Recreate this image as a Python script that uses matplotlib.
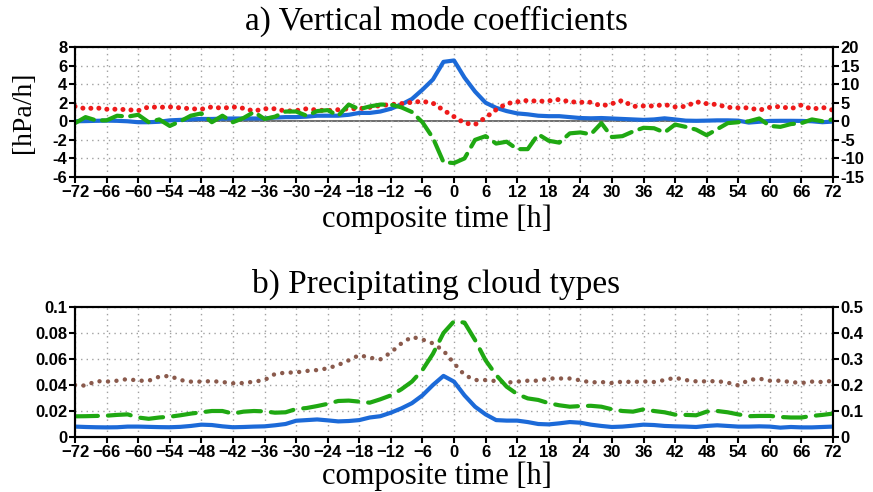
import numpy as np
import matplotlib
matplotlib.use("Agg")
import matplotlib.pyplot as plt
from matplotlib.ticker import FuncFormatter
from matplotlib.font_manager import FontProperties

# composite time [h], every 2 h
hours = np.arange(-72, 73, 2)

# panel a) vertical mode coefficients [hPa/h] (left-axis units)
mode1 = [0.0, 0.02, 0.05, 0.07, 0.05, 0.0, -0.1, -0.1, -0.05, 0.1,
         0.15, 0.2, 0.25, 0.25, 0.28, 0.3, 0.3, 0.3, 0.3, 0.4,
         0.45, 0.45, 0.5, 0.6, 0.6, 0.6, 0.7, 0.9, 0.9, 1.05,
         1.35, 1.8, 2.4, 3.4, 4.5, 6.4, 6.55, 4.7, 3.2, 2.0,
         1.45, 1.1, 0.85, 0.75, 0.6, 0.55, 0.55, 0.45, 0.35, 0.32,
         0.35, 0.3, 0.25, 0.2, 0.15, 0.2, 0.32, 0.2, 0.07, 0.05,
         0.07, 0.1, 0.1, 0.07, -0.14, -0.05, 0.04, 0.05, 0.05, 0.04,
         0.0, -0.1, -0.03]
mode2 = [-0.2, 0.45, 0.1, 0.1, 0.6, 0.5, 0.7, -0.1, 0.2, -0.5,
         0.0, 0.6, 0.85, -0.1, 0.6, -0.1, 0.35, 1.0, 0.25, 0.5,
         1.05, 1.05, 0.6, 1.1, 1.2, 0.6, 1.8, 1.3, 1.6, 1.8,
         1.8, 1.5, 1.0, -0.1, -1.8, -4.4, -4.5, -4.0, -2.0, -1.6,
         -2.4, -2.2, -3.0, -3.0, -1.4, -2.1, -2.3, -1.3, -1.2, -1.4,
         -0.2, -1.7, -1.6, -1.1, -0.7, -0.75, -1.2, -0.35, -0.6, -0.9,
         -1.5, -0.85, -0.2, -0.1, 0.0, 0.3, -0.5, -0.6, -0.3, -0.2,
         0.2, 0.0, 0.2]
mode3 = [1.6, 1.35, 1.45, 1.3, 1.3, 1.25, 1.15, 1.55, 1.5, 1.55,
         1.45, 1.35, 1.3, 1.55, 1.4, 1.55, 1.4, 1.1, 1.35, 1.35,
         1.1, 1.15, 1.35, 1.2, 1.15, 1.25, 1.35, 1.35, 1.5, 1.7,
         1.8, 1.9, 2.05, 2.15, 1.95, 1.2, 0.5, -0.2, -0.35, 0.4,
         1.25, 1.9, 2.1, 2.25, 2.15, 2.2, 2.35, 2.1, 2.05, 2.05,
         1.65, 1.9, 2.25, 1.6, 1.65, 1.65, 1.8, 1.55, 1.6, 2.1,
         1.9, 1.8, 1.5, 1.45, 1.45, 1.2, 1.5, 1.6, 1.35, 1.75,
         1.3, 1.5, 1.2]

# panel b) precipitating cloud types (left-axis units)
deep = [0.008, 0.0077, 0.0075, 0.0074, 0.0075, 0.008, 0.008, 0.0078, 0.0076, 0.0075,
        0.0078, 0.0085, 0.0095, 0.0092, 0.0082, 0.0075, 0.0077, 0.008, 0.0082, 0.009,
        0.010, 0.0125, 0.013, 0.0135, 0.0128, 0.012, 0.0123, 0.013, 0.015, 0.016,
        0.0187, 0.022, 0.026, 0.032, 0.040, 0.047, 0.0426, 0.032, 0.0233, 0.0174,
        0.013, 0.0126, 0.0126, 0.0115, 0.010, 0.0097, 0.0105, 0.0115, 0.011, 0.0095,
        0.0085, 0.0077, 0.008, 0.0087, 0.0095, 0.0092, 0.0085, 0.0082, 0.008, 0.0077,
        0.0085, 0.009, 0.0085, 0.008, 0.008, 0.0082, 0.008, 0.0072, 0.0077, 0.0074,
        0.0074, 0.0077, 0.008]
strat = [0.0159, 0.016, 0.0162, 0.0164, 0.017, 0.0174, 0.015, 0.014, 0.015, 0.0156,
         0.0167, 0.018, 0.019, 0.020, 0.020, 0.018, 0.0195, 0.020, 0.0197, 0.0187,
         0.019, 0.0215, 0.0223, 0.0238, 0.0255, 0.0277, 0.028, 0.0272, 0.0264, 0.029,
         0.032, 0.0367, 0.0426, 0.0515, 0.064, 0.080, 0.089, 0.088, 0.0746, 0.059,
         0.0477, 0.0387, 0.033, 0.0297, 0.0285, 0.026, 0.0244, 0.0233, 0.0238, 0.024,
         0.0233, 0.0213, 0.020, 0.0195, 0.0213, 0.020, 0.019, 0.0172, 0.017, 0.0167,
         0.0195, 0.020, 0.019, 0.0174, 0.016, 0.0162, 0.0162, 0.0154, 0.015, 0.015,
         0.0162, 0.017, 0.018]
shallow = [0.040, 0.0395, 0.043, 0.0426, 0.0433, 0.0446, 0.0433, 0.0433, 0.0464, 0.047,
           0.0438, 0.0426, 0.0426, 0.043, 0.0423, 0.0413, 0.0415, 0.0426, 0.0438, 0.0485,
           0.0495, 0.0497, 0.0508, 0.0515, 0.0528, 0.0554, 0.059, 0.063, 0.061, 0.0597,
           0.065, 0.072, 0.077, 0.075, 0.072, 0.0664, 0.0567, 0.0477, 0.0438, 0.0438,
           0.043, 0.0418, 0.0426, 0.0433, 0.0433, 0.045, 0.045, 0.045, 0.0436, 0.042,
           0.0423, 0.0415, 0.0426, 0.0423, 0.0428, 0.0423, 0.0438, 0.0456, 0.0438, 0.0428,
           0.0428, 0.043, 0.0418, 0.0397, 0.0438, 0.0449, 0.0433, 0.0433, 0.0423, 0.0415,
           0.0426, 0.0423, 0.0433]

xticks = np.arange(-72, 73, 6)
yticks_a_left = np.arange(-6, 9, 2)
yticks_a_right = np.arange(-15, 21, 5)
yticks_b_left = [0, 0.02, 0.04, 0.06, 0.08, 0.1]
yticks_b_right = [0, 0.1, 0.2, 0.3, 0.4, 0.5]

BLUE = "#1c6ad8"
GREEN = "#1fa812"
RED = "#ee1a1a"
BROWN = "#8a5a4c"

TICKFONT = dict(family="Liberation Sans", weight="bold", size=12)
SERIF = "Liberation Serif"

fmt = FuncFormatter(lambda v, p: "%g" % v if abs(v) > 1e-9 else "0")


def set_tick_font(labels):
    for lab in labels:
        lab.set_fontproperties(FontProperties(**TICKFONT))


def style_axes(ax, yticks, ylim):
    ax.set_xlim(-72, 72)
    ax.set_ylim(*ylim)
    ax.set_xticks(xticks)
    ax.set_yticks(yticks)
    ax.yaxis.set_major_formatter(fmt)
    ax.grid(True, color="#a0a0a0", linestyle=(0, (1, 3)), linewidth=1.0)
    ax.tick_params(direction="out", length=4, width=1.5, pad=1.5)
    set_tick_font(ax.get_xticklabels() + ax.get_yticklabels())
    for sp in ax.spines.values():
        sp.set_linewidth(1.5)


def add_right(ax, ticks, lim):
    ax2 = ax.twinx()
    ax2.set_ylim(*lim)
    ax2.set_yticks(ticks)
    ax2.yaxis.set_major_formatter(fmt)
    ax2.tick_params(direction="out", length=4, width=1.5, pad=1.5)
    set_tick_font(ax2.get_yticklabels())
    for sp in ax2.spines.values():
        sp.set_linewidth(1.5)
    return ax2


fig = plt.figure(figsize=(8.73, 4.92), dpi=100)
ax_a = fig.add_axes([75 / 873, 1 - 177 / 492, 758 / 873, 130 / 492])
ax_b = fig.add_axes([75 / 873, 1 - 437 / 492, 758 / 873, 130 / 492])

# panel a
style_axes(ax_a, yticks_a_left, (-6, 8))
ax_a.axhline(0, color="#555555", linewidth=1.2, zorder=1)
ax_a.plot(hours, mode1, color=BLUE, linewidth=3, solid_capstyle="round", zorder=3)
ax_a.plot(hours, mode3, color=RED, linewidth=3.6, linestyle=(0, (0.01, 1.6)),
          dash_capstyle="round", zorder=3)
ax_a.plot(hours, mode2, color=GREEN, linewidth=3, linestyle=(0, (5, 2)),
          dash_capstyle="round", zorder=3)
add_right(ax_a, yticks_a_right, (-15, 20))

# panel b
style_axes(ax_b, yticks_b_left, (0, 0.1))
ax_b.plot(hours, deep, color=BLUE, linewidth=3, zorder=3)
ax_b.plot(hours, shallow, color=BROWN, linewidth=3.2, linestyle=(0, (0.01, 1.9)),
          dash_capstyle="round", zorder=3)
ax_b.plot(hours, strat, color=GREEN, linewidth=3, linestyle=(0, (5.5, 2.4)),
          dash_capstyle="round", zorder=3)
add_right(ax_b, yticks_b_right, (0, 0.5))

fig.text(0.5, 1 - 21 / 492, "a) Vertical mode coefficients", ha="center", va="center",
         family=SERIF, size=24)
fig.text(0.5, 1 - 219 / 492, "composite time [h]", ha="center", va="center",
         family=SERIF, size=22)
fig.text(0.5, 1 - 284 / 492, "b) Precipitating cloud types", ha="center", va="center",
         family=SERIF, size=24)
fig.text(0.5, 1 - 476 / 492, "composite time [h]", ha="center", va="center",
         family=SERIF, size=22)
fig.text(24 / 873, 1 - 112 / 492, "[hPa/h]", ha="center", va="center", rotation=90,
         family=SERIF, size=20)

fig.savefig("out.png", dpi=100)
plt.close(fig)
